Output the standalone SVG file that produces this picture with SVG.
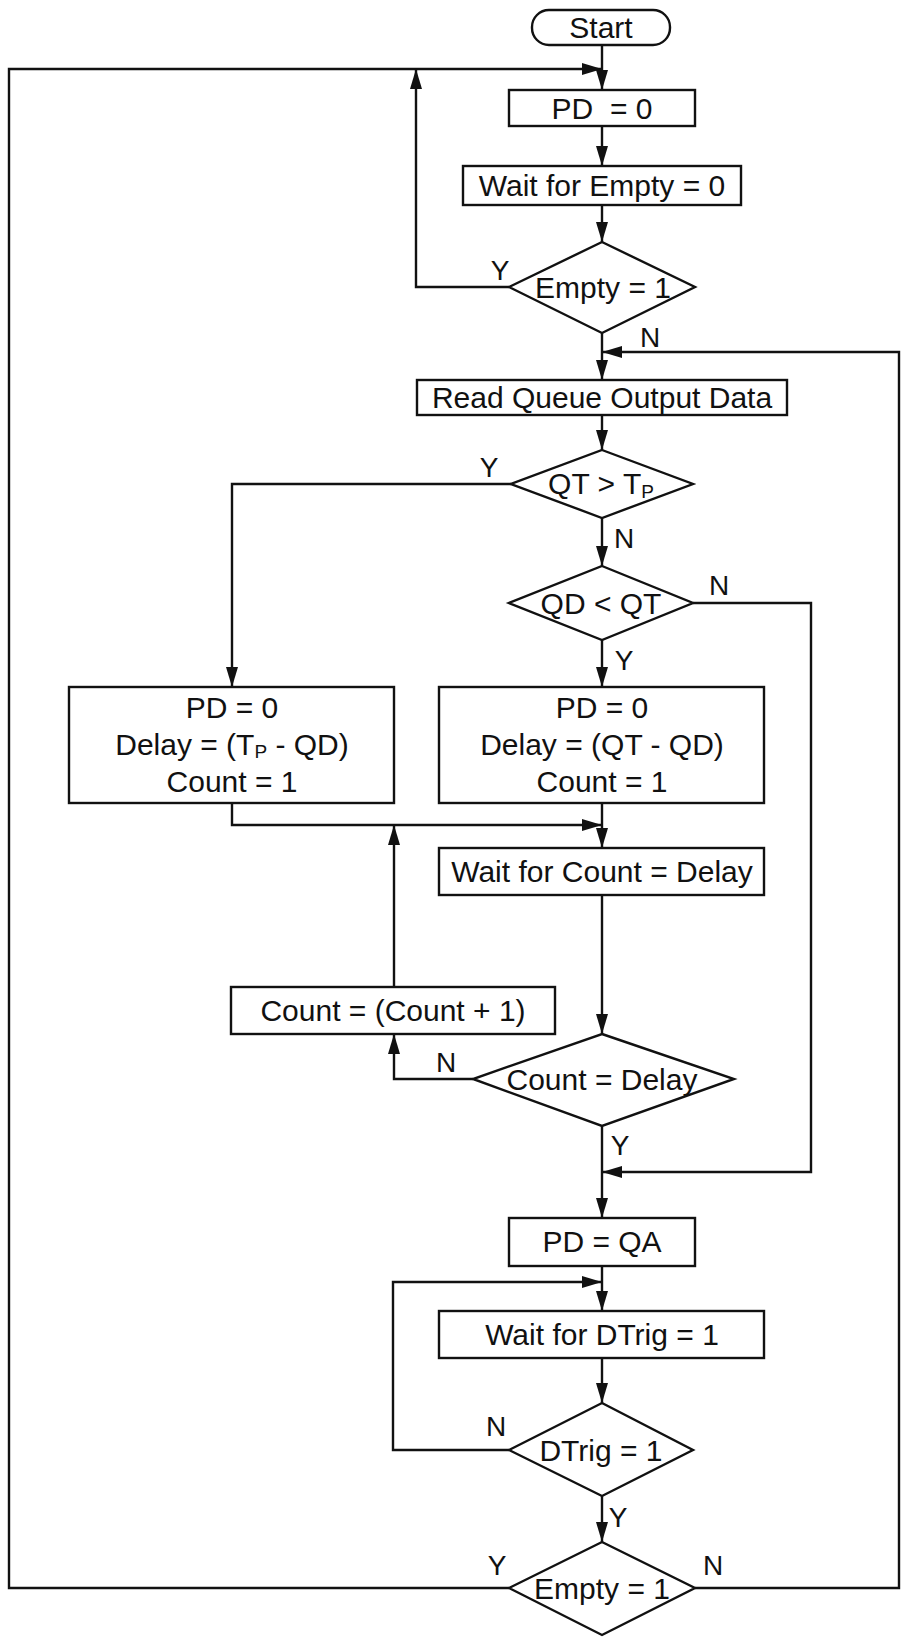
<svg xmlns="http://www.w3.org/2000/svg" width="902" height="1637" viewBox="0 0 902 1637">
<style>
.n{fill:#fff;stroke:#111;stroke-width:2.4}
.t{font-family:"Liberation Sans",Arial,sans-serif;font-size:30px;fill:#111;text-anchor:middle}
.l{font-family:"Liberation Sans",Arial,sans-serif;font-size:28px;fill:#111;text-anchor:middle}
.c{fill:none;stroke:#111;stroke-width:2.4}
.s{font-size:19px}
</style>
<defs>
<marker id="a" markerUnits="userSpaceOnUse" markerWidth="20" markerHeight="12" refX="20" refY="6" orient="auto">
<path d="M0,0 L20,6 L0,12 z" fill="#111"/>
</marker>
</defs>
<rect width="902" height="1637" fill="#fff"/>
<g id="connectors">
<path class="c" d="M602,45 V90" marker-end="url(#a)"/>
<path class="c" d="M509,1588 H9 V69 H602" marker-end="url(#a)"/>
<path class="c" d="M509,287 H416 V69" marker-end="url(#a)"/>
<path class="c" d="M602,126 V166" marker-end="url(#a)"/>
<path class="c" d="M602,205 V242" marker-end="url(#a)"/>
<path class="c" d="M602,333 V380" marker-end="url(#a)"/>
<path class="c" d="M695,1588 H899 V352 H602" marker-end="url(#a)"/>
<path class="c" d="M602,415 V450" marker-end="url(#a)"/>
<path class="c" d="M511,484 H232 V687" marker-end="url(#a)"/>
<path class="c" d="M602,518 V566" marker-end="url(#a)"/>
<path class="c" d="M693,603 H811 V1172 H602" marker-end="url(#a)"/>
<path class="c" d="M602,640 V687" marker-end="url(#a)"/>
<path class="c" d="M232,803 V825 H602" marker-end="url(#a)"/>
<path class="c" d="M602,803 V848" marker-end="url(#a)"/>
<path class="c" d="M394,987 V825" marker-end="url(#a)"/>
<path class="c" d="M602,895 V1034" marker-end="url(#a)"/>
<path class="c" d="M473,1079 H394 V1034" marker-end="url(#a)"/>
<path class="c" d="M602,1126 V1218" marker-end="url(#a)"/>
<path class="c" d="M602,1266 V1311" marker-end="url(#a)"/>
<path class="c" d="M509,1450 H393 V1282 H602" marker-end="url(#a)"/>
<path class="c" d="M602,1358 V1403" marker-end="url(#a)"/>
<path class="c" d="M602,1496 V1542" marker-end="url(#a)"/>
<text class="l" x="500" y="280">Y</text>
<text class="l" x="650" y="347">N</text>
<text class="l" x="489" y="477">Y</text>
<text class="l" x="624" y="548">N</text>
<text class="l" x="719" y="595">N</text>
<text class="l" x="624" y="670">Y</text>
<text class="l" x="446" y="1072">N</text>
<text class="l" x="620" y="1155">Y</text>
<text class="l" x="496" y="1436">N</text>
<text class="l" x="618" y="1527">Y</text>
<text class="l" x="497" y="1575">Y</text>
<text class="l" x="713" y="1575">N</text>
</g>
<g id="start"><rect class="n" x="532" y="10" width="138" height="35" rx="17"/><text class="t" x="601" y="38">Start</text></g>
<g id="pd0"><rect class="n" x="509" y="90" width="186" height="36"/><text class="t" x="602" y="119" xml:space="preserve">PD  = 0</text></g>
<g id="wait-empty"><rect class="n" x="463" y="166" width="278" height="39"/><text class="t" x="602" y="196">Wait for Empty = 0</text></g>
<g id="empty1"><polygon class="n" points="602,242 695,287 602,333 509,287"/><text class="t" x="603" y="298">Empty = 1</text></g>
<g id="read"><rect class="n" x="417" y="380" width="370" height="35"/><text class="t" x="602" y="408">Read Queue Output Data</text></g>
<g id="qt-tp"><polygon class="n" points="602,450 693,484 602,518 511,484"/><text class="t" x="601" y="494">QT &gt; T<tspan class="s" dy="4">P</tspan></text></g>
<g id="qd-qt"><polygon class="n" points="602,566 693,603 602,640 509,603"/><text class="t" x="601" y="614">QD &lt; QT</text></g>
<g id="box-left"><rect class="n" x="69" y="687" width="325" height="116"/>
<text class="t" x="232" y="718">PD = 0</text>
<text class="t" x="232" y="755">Delay = (T<tspan class="s" dy="3">P</tspan><tspan dy="-3"> - QD)</tspan></text>
<text class="t" x="232" y="792">Count = 1</text></g>
<g id="box-right"><rect class="n" x="439" y="687" width="325" height="116"/>
<text class="t" x="602" y="718">PD = 0</text>
<text class="t" x="602" y="755">Delay = (QT - QD)</text>
<text class="t" x="602" y="792">Count = 1</text></g>
<g id="wait-count"><rect class="n" x="439" y="848" width="325" height="47"/><text class="t" x="602" y="882">Wait for Count = Delay</text></g>
<g id="count-inc"><rect class="n" x="231" y="987" width="324" height="47"/><text class="t" x="393" y="1021">Count = (Count + 1)</text></g>
<g id="count-delay"><polygon class="n" points="602,1034 734,1079 602,1126 473,1079"/><text class="t" x="602" y="1090">Count = Delay</text></g>
<g id="pd-qa"><rect class="n" x="509" y="1218" width="186" height="48"/><text class="t" x="602" y="1252">PD = QA</text></g>
<g id="wait-dtrig"><rect class="n" x="439" y="1311" width="325" height="47"/><text class="t" x="602" y="1345">Wait for DTrig = 1</text></g>
<g id="dtrig1"><polygon class="n" points="602,1403 693,1450 602,1496 509,1450"/><text class="t" x="601" y="1461">DTrig = 1</text></g>
<g id="empty1b"><polygon class="n" points="602,1542 695,1588 602,1635 509,1588"/><text class="t" x="602" y="1599">Empty = 1</text></g>
</svg>
